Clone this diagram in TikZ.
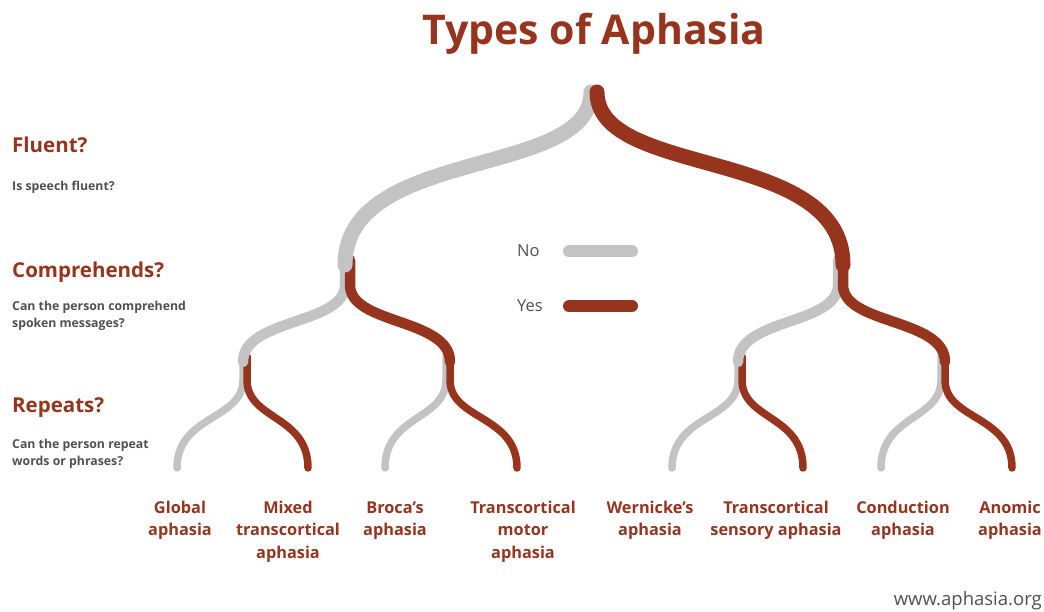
\documentclass[tikz,border=0pt]{standalone}
\usepackage{fontspec}
\setmainfont{Open Sans}
\usetikzlibrary{calc}
\definecolor{aphred}{RGB}{150,52,30}
\definecolor{aphgray}{RGB}{195,195,195}
\definecolor{txtgray}{RGB}{80,80,80}
\begin{document}
\begin{tikzpicture}[x=1pt,y=-1pt,
  nobr/.style={draw=aphgray,line cap=round},
  yesbr/.style={draw=aphred,line cap=round},
  lvA/.style={line width=15pt},
  lvB/.style={line width=10.5pt},
  lvC/.style={line width=7.5pt},
  titletxt/.style={font=\bfseries\fontsize{41}{48}\selectfont,text=aphred,inner sep=0,anchor=base},
  qhead/.style={font=\bfseries\fontsize{20.5}{24}\selectfont,text=aphred,inner sep=0,anchor=base west},
  qsub/.style={font=\bfseries\fontsize{12.3}{17}\selectfont,text=txtgray,inner sep=0,anchor=north west,align=left},
  leaf/.style={font=\bfseries\fontsize{16.3}{22.7}\selectfont,text=aphred,inner sep=0,anchor=north,align=center},
  legtxt/.style={font=\fontsize{16.5}{20}\selectfont,text=txtgray,inner sep=0,anchor=base west},
  urltxt/.style={font=\fontsize{18.5}{22}\selectfont,text=txtgray,inner sep=0,anchor=base east}
]
\useasboundingbox (0,0) rectangle (1044,612);

% tree junctions
\coordinate (root) at (594,92);
\coordinate (nL) at (345,265);
\coordinate (nR) at (843,265);
\coordinate (nLL) at (243,362);
\coordinate (nLR) at (450,362);
\coordinate (nRL) at (738,362);
\coordinate (nRR) at (945,362);
\coordinate (g1) at (177,468);
\coordinate (g2) at (308,468);
\coordinate (g3) at (385,468);
\coordinate (g4) at (517,468);
\coordinate (g5) at (672,468);
\coordinate (g6) at (803,468);
\coordinate (g7) at (881,468);
\coordinate (g8) at (1012,468);

% level 3
\draw[nobr,lvC] ($(nLL)+(0,-6)$) -- ++(0,24) .. controls +(0,40) and +(0,-53) .. (g1);
\draw[yesbr,lvC] ($(nLL)+(4,-6)$) -- ++(0,24) .. controls +(0,40) and +(0,-53) .. (g2);
\draw[nobr,lvC] ($(nLR)+(-4,-6)$) -- ++(0,24) .. controls +(0,40) and +(0,-53) .. (g3);
\draw[yesbr,lvC] ($(nLR)+(0,-6)$) -- ++(0,24) .. controls +(0,40) and +(0,-53) .. (g4);
\draw[nobr,lvC] ($(nRL)+(0,-6)$) -- ++(0,24) .. controls +(0,40) and +(0,-53) .. (g5);
\draw[yesbr,lvC] ($(nRL)+(4,-6)$) -- ++(0,24) .. controls +(0,40) and +(0,-53) .. (g6);
\draw[nobr,lvC] ($(nRR)+(-4,-6)$) -- ++(0,24) .. controls +(0,40) and +(0,-53) .. (g7);
\draw[yesbr,lvC] ($(nRR)+(0,-6)$) -- ++(0,24) .. controls +(0,40) and +(0,-53) .. (g8);

% level 2
\draw[nobr,lvB] ($(nL)+(0,-7)$) -- ++(0,27) .. controls +(0,40) and +(0,-44) .. (nLL);
\draw[yesbr,lvB] ($(nL)+(5,-5)$) -- ++(0,25) .. controls +(0,40) and +(0,-44) .. (nLR);
\draw[nobr,lvB] ($(nR)+(-5,-5)$) -- ++(0,25) .. controls +(0,40) and +(0,-44) .. (nRL);
\draw[yesbr,lvB] ($(nR)+(0,-7)$) -- ++(0,27) .. controls +(0,40) and +(0,-44) .. (nRR);

% level 1
\draw[nobr,lvA] ($(root)+(-3,0)$) .. controls +(0,87) and +(0,-119) .. (nL);
\draw[yesbr,lvA] ($(root)+(3,0)$) .. controls +(0,87) and +(0,-119) .. (nR);

% title
\node[titletxt] (title) at (594,45) {Types of Aphasia};

% questions
\node[qhead] (qfluent) at (12,153) {Fluent?};
\node[qsub] (sfluent) at (12,178.1) {\strut Is speech fluent?};
\node[qhead] (qcomp) at (12,278) {Comprehends?};
\node[qsub] (scomp) at (12,298.1) {\strut Can the person comprehend\\spoken messages?};
\node[qhead] (qrep) at (12,412) {Repeats?};
\node[qsub] (srep) at (12,436.1) {\strut Can the person repeat\\words or phrases?};

% legend
\node[legtxt] (no) at (517,257) {No};
\node[legtxt] (yes) at (517,311.5) {Yes};
\coordinate (noA) at (569,251.5);
\coordinate (noB) at (632,251.5);
\coordinate (yesA) at (569,306);
\coordinate (yesB) at (632,306);
\draw[nobr,line width=12pt] (noA) -- (noB);
\draw[yesbr,line width=12pt] (yesA) -- (yesB);

% leaves
\node[leaf] (l1) at (180,497.1) {\strut Global\\aphasia};
\node[leaf] (l2) at (288,497.1) {\strut Mixed\\transcortical\\aphasia};
\node[leaf] (l3) at (395,497.1) {\strut Broca’s\\aphasia};
\node[leaf] (l4) at (523,497.1) {\strut Transcortical\\motor\\aphasia};
\node[leaf] (l5) at (650,497.1) {\strut Wernicke’s\\aphasia};
\node[leaf] (l6) at (776,497.1) {\strut Transcortical\\sensory aphasia};
\node[leaf] (l7) at (903,497.1) {\strut Conduction\\aphasia};
\node[leaf] (l8) at (1010,497.1) {\strut Anomic\\aphasia};

% url
\node[urltxt] (url) at (1042,605.5) {www.aphasia.org};
\end{tikzpicture}
\end{document}
